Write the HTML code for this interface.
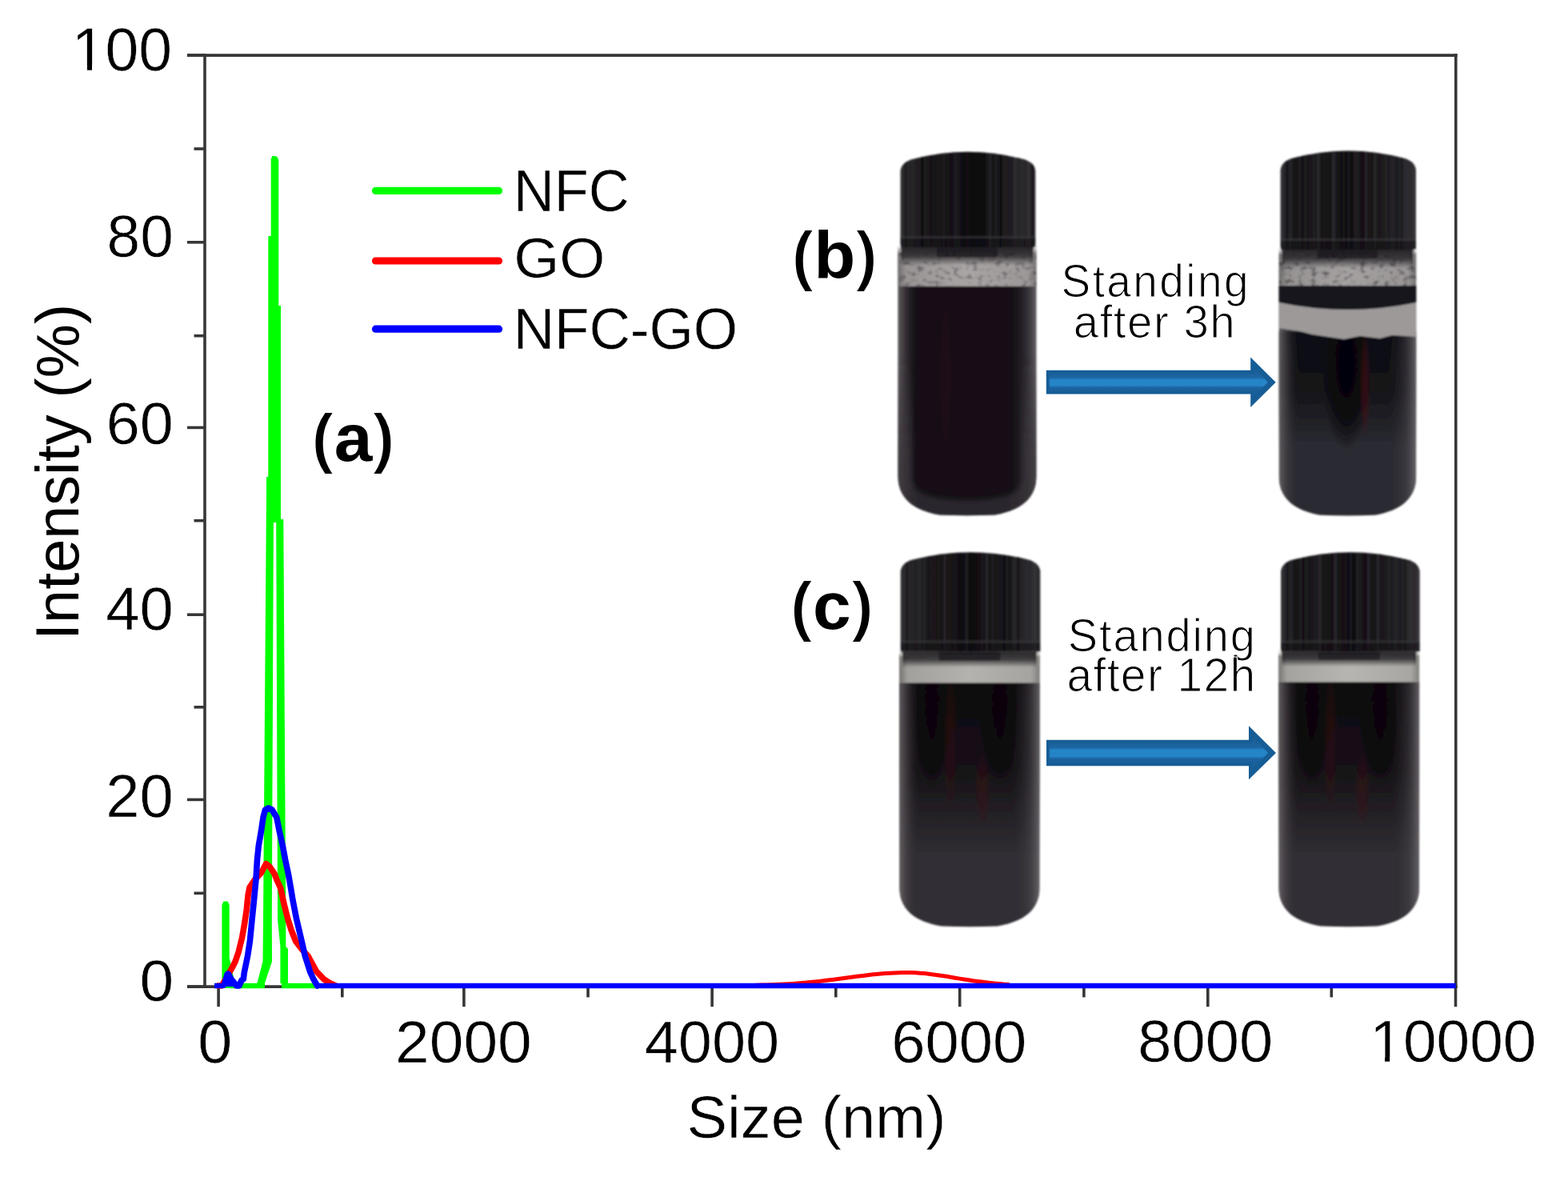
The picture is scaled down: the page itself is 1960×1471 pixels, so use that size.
<!DOCTYPE html>
<html><head><meta charset="utf-8"><title>Size distribution of NFC, GO and NFC-GO</title>
<style>html,body{margin:0;padding:0;background:#fff;overflow:hidden;}svg{display:block;}</style></head>
<body>
<svg width="1960" height="1471" viewBox="0 0 1960 1471" font-family="Liberation Sans, Arial, Helvetica, sans-serif">
<defs>
<filter id="soft" x="-5%" y="-5%" width="110%" height="110%"><feGaussianBlur stdDeviation="0.9"/></filter>
<filter id="soft2" x="-50%" y="-20%" width="200%" height="140%"><feGaussianBlur stdDeviation="3"/></filter>
<filter id="soft3" x="-30%" y="-30%" width="160%" height="160%"><feGaussianBlur stdDeviation="9"/></filter>
<filter id="speck" x="0" y="0" width="100%" height="100%">
  <feTurbulence type="fractalNoise" baseFrequency="0.13 0.18" numOctaves="3" seed="11" result="t"/>
  <feColorMatrix in="t" type="matrix" values="0 0 0 0 0.09  0 0 0 0 0.08  0 0 0 0 0.09  0 0 0 -4.5 2.1" result="m"/>
  <feComposite in="m" in2="SourceGraphic" operator="in"/>
</filter>
<linearGradient id="capg" x1="0" y1="0" x2="1" y2="0">
  <stop offset="0" stop-color="#303033"/><stop offset="0.08" stop-color="#242326"/>
  <stop offset="0.3" stop-color="#151316"/><stop offset="0.55" stop-color="#0f0d10"/>
  <stop offset="0.8" stop-color="#1e1d20"/><stop offset="0.93" stop-color="#2d2c2f"/><stop offset="1" stop-color="#38373a"/>
</linearGradient>
<linearGradient id="edgeg" x1="0" y1="0" x2="1" y2="0">
  <stop offset="0" stop-color="#6a6568" stop-opacity="0.9"/><stop offset="0.05" stop-color="#4a4549" stop-opacity="0.7"/>
  <stop offset="0.14" stop-color="#2a262b" stop-opacity="0"/><stop offset="0.8" stop-color="#2a262b" stop-opacity="0"/>
  <stop offset="0.93" stop-color="#4a464c" stop-opacity="0.55"/><stop offset="1" stop-color="#6e6a6e" stop-opacity="0.9"/>
</linearGradient>
<linearGradient id="bandedge" x1="0" y1="0" x2="1" y2="0">
  <stop offset="0" stop-color="#000" stop-opacity="0.35"/><stop offset="0.06" stop-color="#000" stop-opacity="0.1"/>
  <stop offset="0.5" stop-color="#000" stop-opacity="0"/><stop offset="0.94" stop-color="#000" stop-opacity="0.08"/><stop offset="1" stop-color="#000" stop-opacity="0.3"/>
</linearGradient>
<linearGradient id="vfg" x1="0" y1="0" x2="0" y2="1">
  <stop offset="0" stop-color="#fff"/><stop offset="0.55" stop-color="#fff"/><stop offset="1" stop-color="#000"/>
</linearGradient>
<mask id="vfade" maskContentUnits="objectBoundingBox"><rect width="1" height="1" fill="url(#vfg)"/></mask>
<linearGradient id="arrs" x1="0" y1="0" x2="0" y2="1">
  <stop offset="0" stop-color="#0f5a92"/><stop offset="0.1" stop-color="#1a5d96"/><stop offset="0.35" stop-color="#1c66a3"/>
  <stop offset="0.42" stop-color="#2584c6"/><stop offset="0.6" stop-color="#2585c7"/><stop offset="0.68" stop-color="#1b62a0"/>
  <stop offset="0.9" stop-color="#185e97"/><stop offset="1" stop-color="#0f5a92"/>
</linearGradient>
</defs>
<rect width="1960" height="1471" fill="#fff"/>
<clipPath id="clb1"><path d="M1122.4,307 L1295.5,307 L1295.5,594.6 C1295.5,629.6 1265.5,639.6 1243.57,643.6 Q1208.95,645.1 1174.3300000000002,643.6 C1152.4,639.6 1122.4,629.6 1122.4,594.6 Z"/></clipPath>
<g filter="url(#soft)">
<g clip-path="url(#clb1)">
<rect x="1122.4" y="307" width="173.0999999999999" height="339.6" fill="#120e14"/>
<radialGradient id="rg1"><stop offset="0" stop-color="#3a0d16" stop-opacity="0.35"/><stop offset="0.6" stop-color="#3a0d16" stop-opacity="0.245"/><stop offset="1" stop-color="#3a0d16" stop-opacity="0"/></radialGradient><ellipse cx="1182" cy="470" rx="10" ry="120" fill="url(#rg1)"/>
<rect x="1122.4" y="307" width="173.0999999999999" height="339.6" fill="url(#edgeg)"/>
<linearGradient id="rgrb1" gradientUnits="userSpaceOnUse" x1="0" y1="444.6" x2="0" y2="574.6"><stop offset="0" stop-color="#39343a" stop-opacity="0"/><stop offset="1" stop-color="#39343a" stop-opacity="0.7"/></linearGradient>
<path d="M1122.4,444.6 L1122.4,594.6 C1122.4,629.6 1152.4,641.6 1208.95,642.6 C1265.5,641.6 1295.5,629.6 1295.5,594.6 L1295.5,444.6" fill="none" stroke="url(#rgrb1)" stroke-width="34" filter="url(#soft2)"/>
<rect x="1122.4" y="315.4" width="173.0999999999999" height="42.400000000000034" fill="#aaa5a5"/>
<rect x="1122.4" y="315.4" width="173.0999999999999" height="42.400000000000034" fill="#000" filter="url(#speck)" opacity="0.6"/>
<rect x="1122.4" y="315.4" width="173.0999999999999" height="42.400000000000034" fill="url(#bandedge)"/>
<rect x="1122.4" y="307" width="173.0999999999999" height="8.399999999999977" fill="#aaa5a5"/>
<linearGradient id="vg15" x1="0" y1="0" x2="0" y2="1"><stop offset="0" stop-color="#18161a" stop-opacity="0.9"/><stop offset="0.5" stop-color="#18161a" stop-opacity="0.720"/><stop offset="1" stop-color="#18161a" stop-opacity="0.0"/></linearGradient><rect x="1126.4" y="309" width="165.0999999999999" height="22.399999999999977" fill="url(#vg15)"/>
<rect x="1170.9" y="309" width="76.2" height="12.399999999999977" rx="3" fill="#151317" opacity="0.55"/>
<path d="M1121.4,307 L1128.4,307 Q1122.4,309 1121.4,317 Z" fill="#fff"/>
<path d="M1296.5,307 L1289.5,307 Q1295.5,309 1296.5,317 Z" fill="#fff"/>
</g>
<path d="M1125.5,309 L1125.5,213.8 Q1126.5,202.8 1141.5,198.8 Q1209.95,180.8 1278.4,198.8 Q1293.4,202.8 1294.4,213.8 L1294.4,309 Z" fill="url(#capg)"/>
<clipPath id="ccb1"><path d="M1125.5,309 L1125.5,213.8 Q1126.5,202.8 1141.5,198.8 Q1209.95,180.8 1278.4,198.8 Q1293.4,202.8 1294.4,213.8 L1294.4,309 Z"/></clipPath><g clip-path="url(#ccb1)">
<rect x="1130.6" y="189.8" width="3.2" height="119.19999999999999" fill="#050406" opacity="0.36"/>
<rect x="1139.2" y="189.8" width="1.9" height="119.19999999999999" fill="#302f33" opacity="0.55"/>
<rect x="1145.8" y="189.8" width="2.0" height="119.19999999999999" fill="#2a1a1e" opacity="0.31"/>
<rect x="1150.8" y="189.8" width="3.8" height="119.19999999999999" fill="#050406" opacity="0.55"/>
<rect x="1158.9" y="189.8" width="1.7" height="119.19999999999999" fill="#2a1a1e" opacity="0.20"/>
<rect x="1162.7" y="189.8" width="2.8" height="119.19999999999999" fill="#050406" opacity="0.32"/>
<rect x="1172.4" y="189.8" width="3.2" height="119.19999999999999" fill="#2a1a1e" opacity="0.51"/>
<rect x="1178.4" y="189.8" width="2.7" height="119.19999999999999" fill="#302f33" opacity="0.39"/>
<rect x="1185.3" y="189.8" width="1.6" height="119.19999999999999" fill="#2a1a1e" opacity="0.39"/>
<rect x="1192.0" y="189.8" width="4.1" height="119.19999999999999" fill="#302f33" opacity="0.45"/>
<rect x="1196.5" y="189.8" width="3.1" height="119.19999999999999" fill="#3d3c40" opacity="0.21"/>
<rect x="1204.4" y="189.8" width="3.0" height="119.19999999999999" fill="#050406" opacity="0.50"/>
<rect x="1208.1" y="189.8" width="3.0" height="119.19999999999999" fill="#2a1a1e" opacity="0.31"/>
<rect x="1214.9" y="189.8" width="3.9" height="119.19999999999999" fill="#050406" opacity="0.40"/>
<rect x="1223.5" y="189.8" width="3.0" height="119.19999999999999" fill="#050406" opacity="0.22"/>
<rect x="1228.6" y="189.8" width="3.4" height="119.19999999999999" fill="#050406" opacity="0.21"/>
<rect x="1236.0" y="189.8" width="3.2" height="119.19999999999999" fill="#3d3c40" opacity="0.40"/>
<rect x="1243.5" y="189.8" width="2.5" height="119.19999999999999" fill="#302f33" opacity="0.38"/>
<rect x="1249.5" y="189.8" width="2.9" height="119.19999999999999" fill="#050406" opacity="0.49"/>
<rect x="1255.3" y="189.8" width="4.0" height="119.19999999999999" fill="#2a1a1e" opacity="0.47"/>
<rect x="1263.2" y="189.8" width="2.7" height="119.19999999999999" fill="#2a1a1e" opacity="0.46"/>
<rect x="1267.1" y="189.8" width="3.5" height="119.19999999999999" fill="#3d3c40" opacity="0.44"/>
<rect x="1276.2" y="189.8" width="3.3" height="119.19999999999999" fill="#302f33" opacity="0.36"/>
<rect x="1280.2" y="189.8" width="2.1" height="119.19999999999999" fill="#2a1a1e" opacity="0.51"/>
<rect x="1288.4" y="189.8" width="4.2" height="119.19999999999999" fill="#050406" opacity="0.54"/>
<rect x="1125.5" y="295" width="168.9000000000001" height="3" fill="#3a393d" opacity="0.6"/>
<rect x="1125.5" y="298" width="168.9000000000001" height="11" fill="#111013" opacity="0.5"/>
</g>
</g>
<clipPath id="clb2"><path d="M1598.6,310 L1770.3,310 L1770.3,594.7 C1770.3,629.7 1740.3,639.7 1718.7899999999997,643.7 Q1684.4499999999998,645.2 1650.11,643.7 C1628.6,639.7 1598.6,629.7 1598.6,594.7 Z"/></clipPath>
<g filter="url(#soft)">
<g clip-path="url(#clb2)">
<rect x="1598.6" y="310" width="171.70000000000005" height="336.70000000000005" fill="#2c2c33"/>
<linearGradient id="vg2" x1="0" y1="0" x2="0" y2="1"><stop offset="0" stop-color="#08080d" stop-opacity="0.85"/><stop offset="0.5" stop-color="#08080d" stop-opacity="0.680"/><stop offset="1" stop-color="#08080d" stop-opacity="0.0"/></linearGradient><rect x="1598" y="415" width="173" height="145" fill="url(#vg2)"/>
<radialGradient id="rg3"><stop offset="0" stop-color="#030206" stop-opacity="0.9"/><stop offset="0.6" stop-color="#030206" stop-opacity="0.630"/><stop offset="1" stop-color="#030206" stop-opacity="0"/></radialGradient><ellipse cx="1683" cy="470" rx="30" ry="95" fill="url(#rg3)"/>
<radialGradient id="rg4"><stop offset="0" stop-color="#4a0c12" stop-opacity="0.6"/><stop offset="0.6" stop-color="#4a0c12" stop-opacity="0.420"/><stop offset="1" stop-color="#4a0c12" stop-opacity="0"/></radialGradient><ellipse cx="1706" cy="480" rx="7" ry="70" fill="url(#rg4)"/>
<rect x="1598.6" y="310" width="171.70000000000005" height="336.70000000000005" fill="url(#edgeg)"/>
<rect x="1598.6" y="317" width="171.70000000000005" height="40.5" fill="#a6a2a2"/>
<rect x="1598.6" y="317" width="171.70000000000005" height="40.5" fill="#000" filter="url(#speck)" opacity="0.75"/>
<rect x="1598.6" y="317" width="171.70000000000005" height="40.5" fill="url(#bandedge)"/>
<rect x="1598.6" y="310" width="171.70000000000005" height="7" fill="#a6a2a2"/>
<linearGradient id="vg16" x1="0" y1="0" x2="0" y2="1"><stop offset="0" stop-color="#18161a" stop-opacity="0.9"/><stop offset="0.5" stop-color="#18161a" stop-opacity="0.720"/><stop offset="1" stop-color="#18161a" stop-opacity="0.0"/></linearGradient><rect x="1602.6" y="312" width="163.70000000000005" height="23" fill="url(#vg16)"/>
<rect x="1646.7" y="312" width="75.5" height="11" rx="3" fill="#151317" opacity="0.55"/>
<path d="M1597.6,310 L1604.6,310 Q1598.6,312 1597.6,320 Z" fill="#fff"/>
<path d="M1771.3,310 L1764.3,310 Q1770.3,312 1771.3,320 Z" fill="#fff"/>
<path d="M1598,357 L1771,357 L1771,378 Q1685,396 1598,378 Z" fill="#14161c"/>
<path d="M1598,378 Q1685,396 1771,378 L1771,421 L1740,419 L1725,423 L1700,420 L1680,424 L1660,421 L1640,418 L1625,414 L1610,412 L1598,410 Z" fill="#9d9999"/>
</g>
<path d="M1600.6,312 L1600.6,212.6 Q1601.6,201.6 1616.6,197.6 Q1685.3,179.6 1754,197.6 Q1769,201.6 1770,212.6 L1770,312 Z" fill="url(#capg)"/>
<clipPath id="ccb2"><path d="M1600.6,312 L1600.6,212.6 Q1601.6,201.6 1616.6,197.6 Q1685.3,179.6 1754,197.6 Q1769,201.6 1770,212.6 L1770,312 Z"/></clipPath><g clip-path="url(#ccb2)">
<rect x="1606.7" y="188.6" width="4.0" height="123.4" fill="#050406" opacity="0.45"/>
<rect x="1615.5" y="188.6" width="3.1" height="123.4" fill="#050406" opacity="0.34"/>
<rect x="1618.6" y="188.6" width="4.3" height="123.4" fill="#050406" opacity="0.42"/>
<rect x="1626.5" y="188.6" width="3.0" height="123.4" fill="#050406" opacity="0.50"/>
<rect x="1634.0" y="188.6" width="1.9" height="123.4" fill="#050406" opacity="0.33"/>
<rect x="1641.1" y="188.6" width="3.0" height="123.4" fill="#3d3c40" opacity="0.31"/>
<rect x="1646.0" y="188.6" width="4.1" height="123.4" fill="#3d3c40" opacity="0.49"/>
<rect x="1653.7" y="188.6" width="2.9" height="123.4" fill="#2a1a1e" opacity="0.39"/>
<rect x="1658.3" y="188.6" width="2.0" height="123.4" fill="#2a1a1e" opacity="0.43"/>
<rect x="1664.9" y="188.6" width="4.5" height="123.4" fill="#3d3c40" opacity="0.50"/>
<rect x="1671.0" y="188.6" width="4.3" height="123.4" fill="#302f33" opacity="0.20"/>
<rect x="1678.1" y="188.6" width="3.0" height="123.4" fill="#2a1a1e" opacity="0.41"/>
<rect x="1684.9" y="188.6" width="2.0" height="123.4" fill="#302f33" opacity="0.54"/>
<rect x="1691.8" y="188.6" width="4.5" height="123.4" fill="#302f33" opacity="0.54"/>
<rect x="1696.3" y="188.6" width="3.6" height="123.4" fill="#3d3c40" opacity="0.28"/>
<rect x="1706.1" y="188.6" width="3.1" height="123.4" fill="#3d3c40" opacity="0.47"/>
<rect x="1711.4" y="188.6" width="2.1" height="123.4" fill="#2a1a1e" opacity="0.45"/>
<rect x="1717.5" y="188.6" width="2.8" height="123.4" fill="#3d3c40" opacity="0.52"/>
<rect x="1723.2" y="188.6" width="1.7" height="123.4" fill="#2a1a1e" opacity="0.48"/>
<rect x="1731.2" y="188.6" width="3.3" height="123.4" fill="#302f33" opacity="0.38"/>
<rect x="1738.0" y="188.6" width="4.4" height="123.4" fill="#302f33" opacity="0.35"/>
<rect x="1745.0" y="188.6" width="2.5" height="123.4" fill="#050406" opacity="0.36"/>
<rect x="1750.4" y="188.6" width="3.2" height="123.4" fill="#050406" opacity="0.32"/>
<rect x="1756.2" y="188.6" width="3.7" height="123.4" fill="#302f33" opacity="0.33"/>
<rect x="1761.7" y="188.6" width="4.5" height="123.4" fill="#2a1a1e" opacity="0.29"/>
<rect x="1600.6" y="298" width="169.4000000000001" height="3" fill="#3a393d" opacity="0.6"/>
<rect x="1600.6" y="301" width="169.4000000000001" height="11" fill="#111013" opacity="0.5"/>
</g>
</g>
<clipPath id="clc1"><path d="M1124.2,812.6 L1299.6,812.6 L1299.6,1108.4 C1299.6,1143.4 1269.6,1153.4 1246.98,1157.4 Q1211.9,1158.9 1176.8200000000002,1157.4 C1154.2,1153.4 1124.2,1143.4 1124.2,1108.4 Z"/></clipPath>
<g filter="url(#soft)">
<g clip-path="url(#clc1)">
<rect x="1124.2" y="812.6" width="175.39999999999986" height="347.80000000000007" fill="#312e34"/>
<linearGradient id="vg5" x1="0" y1="0" x2="0" y2="1"><stop offset="0" stop-color="#080508" stop-opacity="0.85"/><stop offset="0.5" stop-color="#080508" stop-opacity="0.680"/><stop offset="1" stop-color="#080508" stop-opacity="0.0"/></linearGradient><rect x="1124" y="853" width="176" height="217" fill="url(#vg5)"/>
<radialGradient id="rg6"><stop offset="0" stop-color="#050305" stop-opacity="0.8"/><stop offset="0.6" stop-color="#050305" stop-opacity="0.560"/><stop offset="1" stop-color="#050305" stop-opacity="0"/></radialGradient><ellipse cx="1165" cy="900" rx="22" ry="90" fill="url(#rg6)"/>
<radialGradient id="rg7"><stop offset="0" stop-color="#050305" stop-opacity="0.8"/><stop offset="0.6" stop-color="#050305" stop-opacity="0.560"/><stop offset="1" stop-color="#050305" stop-opacity="0"/></radialGradient><ellipse cx="1250" cy="900" rx="25" ry="85" fill="url(#rg7)"/>
<radialGradient id="rg8"><stop offset="0" stop-color="#3a0a10" stop-opacity="0.45"/><stop offset="0.6" stop-color="#3a0a10" stop-opacity="0.315"/><stop offset="1" stop-color="#3a0a10" stop-opacity="0"/></radialGradient><ellipse cx="1188" cy="930" rx="9" ry="90" fill="url(#rg8)"/>
<radialGradient id="rg9"><stop offset="0" stop-color="#420b12" stop-opacity="0.4"/><stop offset="0.6" stop-color="#420b12" stop-opacity="0.280"/><stop offset="1" stop-color="#420b12" stop-opacity="0"/></radialGradient><ellipse cx="1228" cy="985" rx="10" ry="50" fill="url(#rg9)"/>
<rect x="1124.2" y="812.6" width="175.39999999999986" height="347.80000000000007" fill="url(#edgeg)"/>
<rect x="1124.2" y="820" width="175.39999999999986" height="33.5" fill="#b4b2ae"/>
<rect x="1124.2" y="820" width="175.39999999999986" height="33.5" fill="url(#bandedge)"/>
<rect x="1124.2" y="812.6" width="175.39999999999986" height="7.399999999999977" fill="#b4b2ae"/>
<linearGradient id="vg17" x1="0" y1="0" x2="0" y2="1"><stop offset="0" stop-color="#18161a" stop-opacity="0.9"/><stop offset="0.5" stop-color="#18161a" stop-opacity="0.720"/><stop offset="1" stop-color="#18161a" stop-opacity="0.0"/></linearGradient><rect x="1128.2" y="814.6" width="167.39999999999986" height="19.399999999999977" fill="url(#vg17)"/>
<rect x="1173.3" y="814.6" width="77.2" height="11.399999999999977" rx="3" fill="#151317" opacity="0.55"/>
<path d="M1123.2,812.6 L1130.2,812.6 Q1124.2,814.6 1123.2,822.6 Z" fill="#fff"/>
<path d="M1300.6,812.6 L1293.6,812.6 Q1299.6,814.6 1300.6,822.6 Z" fill="#fff"/>
</g>
<path d="M1125.7,814.6 L1125.7,714.2 Q1126.7,703.2 1141.7,699.2 Q1213.0500000000002,681.2 1284.4,699.2 Q1299.4,703.2 1300.4,714.2 L1300.4,814.6 Z" fill="url(#capg)"/>
<clipPath id="ccc1"><path d="M1125.7,814.6 L1125.7,714.2 Q1126.7,703.2 1141.7,699.2 Q1213.0500000000002,681.2 1284.4,699.2 Q1299.4,703.2 1300.4,714.2 L1300.4,814.6 Z"/></clipPath><g clip-path="url(#ccc1)">
<rect x="1132.4" y="690.2" width="2.0" height="124.39999999999998" fill="#050406" opacity="0.54"/>
<rect x="1140.3" y="690.2" width="1.5" height="124.39999999999998" fill="#302f33" opacity="0.44"/>
<rect x="1147.0" y="690.2" width="4.3" height="124.39999999999998" fill="#302f33" opacity="0.51"/>
<rect x="1154.3" y="690.2" width="2.0" height="124.39999999999998" fill="#3d3c40" opacity="0.36"/>
<rect x="1159.5" y="690.2" width="2.1" height="124.39999999999998" fill="#050406" opacity="0.28"/>
<rect x="1167.9" y="690.2" width="2.7" height="124.39999999999998" fill="#2a1a1e" opacity="0.20"/>
<rect x="1172.1" y="690.2" width="3.4" height="124.39999999999998" fill="#2a1a1e" opacity="0.33"/>
<rect x="1179.4" y="690.2" width="3.2" height="124.39999999999998" fill="#3d3c40" opacity="0.54"/>
<rect x="1184.4" y="690.2" width="4.4" height="124.39999999999998" fill="#2a1a1e" opacity="0.46"/>
<rect x="1191.7" y="690.2" width="3.9" height="124.39999999999998" fill="#302f33" opacity="0.22"/>
<rect x="1198.8" y="690.2" width="3.3" height="124.39999999999998" fill="#050406" opacity="0.22"/>
<rect x="1206.9" y="690.2" width="2.9" height="124.39999999999998" fill="#3d3c40" opacity="0.41"/>
<rect x="1212.2" y="690.2" width="3.1" height="124.39999999999998" fill="#050406" opacity="0.54"/>
<rect x="1221.5" y="690.2" width="3.4" height="124.39999999999998" fill="#2a1a1e" opacity="0.24"/>
<rect x="1226.6" y="690.2" width="2.1" height="124.39999999999998" fill="#302f33" opacity="0.54"/>
<rect x="1231.4" y="690.2" width="3.7" height="124.39999999999998" fill="#3d3c40" opacity="0.50"/>
<rect x="1239.5" y="690.2" width="2.6" height="124.39999999999998" fill="#3d3c40" opacity="0.38"/>
<rect x="1245.6" y="690.2" width="1.5" height="124.39999999999998" fill="#2a1a1e" opacity="0.55"/>
<rect x="1253.6" y="690.2" width="3.4" height="124.39999999999998" fill="#050406" opacity="0.44"/>
<rect x="1260.6" y="690.2" width="4.4" height="124.39999999999998" fill="#050406" opacity="0.22"/>
<rect x="1265.6" y="690.2" width="4.5" height="124.39999999999998" fill="#302f33" opacity="0.51"/>
<rect x="1271.9" y="690.2" width="2.2" height="124.39999999999998" fill="#050406" opacity="0.52"/>
<rect x="1281.2" y="690.2" width="3.5" height="124.39999999999998" fill="#302f33" opacity="0.47"/>
<rect x="1287.1" y="690.2" width="1.5" height="124.39999999999998" fill="#2a1a1e" opacity="0.24"/>
<rect x="1295.7" y="690.2" width="3.4" height="124.39999999999998" fill="#050406" opacity="0.20"/>
<rect x="1125.7" y="800.6" width="174.70000000000005" height="3" fill="#3a393d" opacity="0.6"/>
<rect x="1125.7" y="803.6" width="174.70000000000005" height="11" fill="#111013" opacity="0.5"/>
</g>
</g>
<clipPath id="clc2"><path d="M1598.3,812.5 L1774.2,812.5 L1774.2,1108.6 C1774.2,1143.6 1744.2,1153.6 1721.43,1157.6 Q1686.25,1159.1 1651.07,1157.6 C1628.3,1153.6 1598.3,1143.6 1598.3,1108.6 Z"/></clipPath>
<g filter="url(#soft)">
<g clip-path="url(#clc2)">
<rect x="1598.3" y="812.5" width="175.9000000000001" height="348.0999999999999" fill="#312e34"/>
<linearGradient id="vg10" x1="0" y1="0" x2="0" y2="1"><stop offset="0" stop-color="#080508" stop-opacity="0.85"/><stop offset="0.5" stop-color="#080508" stop-opacity="0.680"/><stop offset="1" stop-color="#080508" stop-opacity="0.0"/></linearGradient><rect x="1598" y="852" width="177" height="218" fill="url(#vg10)"/>
<radialGradient id="rg11"><stop offset="0" stop-color="#050305" stop-opacity="0.8"/><stop offset="0.6" stop-color="#050305" stop-opacity="0.560"/><stop offset="1" stop-color="#050305" stop-opacity="0"/></radialGradient><ellipse cx="1640" cy="900" rx="22" ry="90" fill="url(#rg11)"/>
<radialGradient id="rg12"><stop offset="0" stop-color="#050305" stop-opacity="0.8"/><stop offset="0.6" stop-color="#050305" stop-opacity="0.560"/><stop offset="1" stop-color="#050305" stop-opacity="0"/></radialGradient><ellipse cx="1725" cy="900" rx="25" ry="85" fill="url(#rg12)"/>
<radialGradient id="rg13"><stop offset="0" stop-color="#3a0a10" stop-opacity="0.45"/><stop offset="0.6" stop-color="#3a0a10" stop-opacity="0.315"/><stop offset="1" stop-color="#3a0a10" stop-opacity="0"/></radialGradient><ellipse cx="1663" cy="930" rx="9" ry="90" fill="url(#rg13)"/>
<radialGradient id="rg14"><stop offset="0" stop-color="#420b12" stop-opacity="0.4"/><stop offset="0.6" stop-color="#420b12" stop-opacity="0.280"/><stop offset="1" stop-color="#420b12" stop-opacity="0"/></radialGradient><ellipse cx="1703" cy="985" rx="10" ry="50" fill="url(#rg14)"/>
<rect x="1598.3" y="812.5" width="175.9000000000001" height="348.0999999999999" fill="url(#edgeg)"/>
<rect x="1598.3" y="819" width="175.9000000000001" height="33.5" fill="#b6b5b1"/>
<rect x="1598.3" y="819" width="175.9000000000001" height="33.5" fill="url(#bandedge)"/>
<rect x="1598.3" y="812.5" width="175.9000000000001" height="6.5" fill="#b6b5b1"/>
<linearGradient id="vg18" x1="0" y1="0" x2="0" y2="1"><stop offset="0" stop-color="#18161a" stop-opacity="0.9"/><stop offset="0.5" stop-color="#18161a" stop-opacity="0.720"/><stop offset="1" stop-color="#18161a" stop-opacity="0.0"/></linearGradient><rect x="1602.3" y="814.5" width="167.9000000000001" height="18.5" fill="url(#vg18)"/>
<rect x="1647.6" y="814.5" width="77.4" height="10.5" rx="3" fill="#151317" opacity="0.55"/>
<path d="M1597.3,812.5 L1604.3,812.5 Q1598.3,814.5 1597.3,822.5 Z" fill="#fff"/>
<path d="M1775.2,812.5 L1768.2,812.5 Q1774.2,814.5 1775.2,822.5 Z" fill="#fff"/>
</g>
<path d="M1601.1,814.5 L1601.1,714.3 Q1602.1,703.3 1617.1,699.3 Q1687.9,681.3 1758.7,699.3 Q1773.7,703.3 1774.7,714.3 L1774.7,814.5 Z" fill="url(#capg)"/>
<clipPath id="ccc2"><path d="M1601.1,814.5 L1601.1,714.3 Q1602.1,703.3 1617.1,699.3 Q1687.9,681.3 1758.7,699.3 Q1773.7,703.3 1774.7,714.3 L1774.7,814.5 Z"/></clipPath><g clip-path="url(#ccc2)">
<rect x="1607.3" y="690.3" width="4.0" height="124.20000000000005" fill="#050406" opacity="0.45"/>
<rect x="1616.3" y="690.3" width="3.1" height="124.20000000000005" fill="#050406" opacity="0.34"/>
<rect x="1619.5" y="690.3" width="4.3" height="124.20000000000005" fill="#050406" opacity="0.42"/>
<rect x="1627.7" y="690.3" width="3.0" height="124.20000000000005" fill="#050406" opacity="0.50"/>
<rect x="1635.3" y="690.3" width="1.9" height="124.20000000000005" fill="#050406" opacity="0.33"/>
<rect x="1642.5" y="690.3" width="3.0" height="124.20000000000005" fill="#3d3c40" opacity="0.31"/>
<rect x="1647.6" y="690.3" width="4.1" height="124.20000000000005" fill="#3d3c40" opacity="0.49"/>
<rect x="1655.5" y="690.3" width="2.9" height="124.20000000000005" fill="#2a1a1e" opacity="0.39"/>
<rect x="1660.3" y="690.3" width="2.0" height="124.20000000000005" fill="#2a1a1e" opacity="0.43"/>
<rect x="1667.1" y="690.3" width="4.5" height="124.20000000000005" fill="#3d3c40" opacity="0.50"/>
<rect x="1673.2" y="690.3" width="4.3" height="124.20000000000005" fill="#302f33" opacity="0.20"/>
<rect x="1680.6" y="690.3" width="3.0" height="124.20000000000005" fill="#2a1a1e" opacity="0.41"/>
<rect x="1687.5" y="690.3" width="2.0" height="124.20000000000005" fill="#302f33" opacity="0.54"/>
<rect x="1694.6" y="690.3" width="4.5" height="124.20000000000005" fill="#302f33" opacity="0.54"/>
<rect x="1699.3" y="690.3" width="3.6" height="124.20000000000005" fill="#3d3c40" opacity="0.28"/>
<rect x="1709.2" y="690.3" width="3.1" height="124.20000000000005" fill="#3d3c40" opacity="0.47"/>
<rect x="1714.7" y="690.3" width="2.1" height="124.20000000000005" fill="#2a1a1e" opacity="0.45"/>
<rect x="1720.9" y="690.3" width="2.8" height="124.20000000000005" fill="#3d3c40" opacity="0.52"/>
<rect x="1726.8" y="690.3" width="1.7" height="124.20000000000005" fill="#2a1a1e" opacity="0.48"/>
<rect x="1734.9" y="690.3" width="3.3" height="124.20000000000005" fill="#302f33" opacity="0.38"/>
<rect x="1741.9" y="690.3" width="4.4" height="124.20000000000005" fill="#302f33" opacity="0.35"/>
<rect x="1749.0" y="690.3" width="2.5" height="124.20000000000005" fill="#050406" opacity="0.36"/>
<rect x="1754.7" y="690.3" width="3.2" height="124.20000000000005" fill="#050406" opacity="0.32"/>
<rect x="1760.6" y="690.3" width="3.7" height="124.20000000000005" fill="#302f33" opacity="0.33"/>
<rect x="1766.3" y="690.3" width="4.5" height="124.20000000000005" fill="#2a1a1e" opacity="0.29"/>
<rect x="1601.1" y="800.5" width="173.60000000000014" height="3" fill="#3a393d" opacity="0.6"/>
<rect x="1601.1" y="803.5" width="173.60000000000014" height="11" fill="#111013" opacity="0.5"/>
</g>
</g>
<path d="M1307.8,462.8 L1563.2,462.8 L1563.2,446.5 L1594.7,477.70000000000005 L1563.2,509 L1563.2,492.6 L1307.8,492.6 Z" fill="#165d96"/>
<path d="M1311.8,466.8 L1567.2,466.8 L1567.2,458.5 L1584.7,477.70000000000005 L1567.2,497 L1567.2,488.6 L1311.8,488.6 Z" fill="url(#arrs)"/>
<path d="M1308,924.7 L1561,924.7 L1561,907.3 L1595,941.0 L1561,974.3 L1561,957.3 L1308,957.3 Z" fill="#165d96"/>
<path d="M1312,928.7 L1565,928.7 L1565,919.3 L1585,941.0 L1565,962.3 L1565,953.3 L1312,953.3 Z" fill="url(#arrs)"/>
<g stroke="#363636" stroke-width="3.6" fill="none" stroke-linecap="butt">
<line x1="234" y1="69.1" x2="1821.6" y2="69.1"/>
<line x1="256.0" y1="67.3" x2="256.0" y2="1234.8999999999999"/>
<line x1="1819.8" y1="67.3" x2="1819.8" y2="1234.8999999999999"/>
<line x1="234" y1="1233.1" x2="1821.6" y2="1233.1"/>
<line x1="234" y1="69.1" x2="256.0" y2="69.1"/>
<line x1="234" y1="302.8" x2="256.0" y2="302.8"/>
<line x1="234" y1="534.4" x2="256.0" y2="534.4"/>
<line x1="234" y1="768.2" x2="256.0" y2="768.2"/>
<line x1="234" y1="999.4" x2="256.0" y2="999.4"/>
<line x1="234" y1="1233.1" x2="256.0" y2="1233.1"/>
<line x1="242.5" y1="186.0" x2="256.0" y2="186.0"/>
<line x1="242.5" y1="419.7" x2="256.0" y2="419.7"/>
<line x1="242.5" y1="650.7" x2="256.0" y2="650.7"/>
<line x1="242.5" y1="883.8" x2="256.0" y2="883.8"/>
<line x1="242.5" y1="1116.3" x2="256.0" y2="1116.3"/>
<line x1="273.1" y1="1233.1" x2="273.1" y2="1258.2"/>
<line x1="579.9" y1="1233.1" x2="579.9" y2="1258.2"/>
<line x1="890.1" y1="1233.1" x2="890.1" y2="1258.2"/>
<line x1="1199.7" y1="1233.1" x2="1199.7" y2="1258.2"/>
<line x1="1509.8" y1="1233.1" x2="1509.8" y2="1258.2"/>
<line x1="1819.5" y1="1233.1" x2="1819.5" y2="1258.2"/>
<line x1="427.8" y1="1233.1" x2="427.8" y2="1246.4"/>
<line x1="735.0" y1="1233.1" x2="735.0" y2="1246.4"/>
<line x1="1044.8" y1="1233.1" x2="1044.8" y2="1246.4"/>
<line x1="1354.9" y1="1233.1" x2="1354.9" y2="1246.4"/>
<line x1="1664.3" y1="1233.1" x2="1664.3" y2="1246.4"/>
</g>
<polygon points="277.4,1231.0 277.4,1131.0 279.5,1126.4 284.6,1126.4 286.7,1131.0 286.7,1197.0 290.5,1214.0 293.5,1229.0 293.5,1235.0 277.4,1235.0" fill="#00ff00"/>
<polygon points="321.4,1229.0 328.5,1201.8 329.0,1150.0 333.0,620.0 333.0,596.0 335.3,596.0 335.3,295.0 338.7,295.0 338.7,199.0 340.5,194.8 346.0,195.5 348.3,200.0 348.3,382.0 351.0,382.0 351.0,649.0 354.3,649.0 357.3,1150.0 357.3,1183.0 360.0,1186.0 360.0,1229.0 350.4,1229.0 350.4,1183.0 347.1,1150.0 345.2,653.0 341.9,653.0 339.8,1150.0 340.0,1201.8 330.9,1229.0" fill="#00ff00"/>
<polyline points="288.0,1232.0 331.0,1232.0" fill="none" stroke="#00ff00" stroke-width="6.4" stroke-linecap="butt"/>
<polyline points="352.0,1232.0 394.0,1232.0" fill="none" stroke="#00ff00" stroke-width="6.4" stroke-linecap="butt"/>
<polyline points="268.0,1232.0 277.0,1232.0" fill="none" stroke="#00ff00" stroke-width="6.4" stroke-linecap="butt"/>
<polyline points="271.0,1232.0 277.0,1232.0 282.0,1224.0 288.9,1211.7 294.0,1202.0 298.2,1189.6 302.6,1171.9 305.7,1154.2 308.3,1136.5 310.1,1118.8 312.0,1109.0 318.0,1100.0 326.4,1091.0 332.5,1079.6 337.0,1083.0 343.1,1092.2 346.1,1100.0 350.7,1109.8 354.7,1128.5 359.5,1147.6 364.0,1162.0 369.5,1176.1 377.0,1186.0 385.2,1195.1 395.6,1214.2 404.7,1223.7 412.0,1228.5 420.0,1232.0" fill="none" stroke="#ff0000" stroke-width="7.6" stroke-linejoin="round" stroke-linecap="butt"/>
<polyline points="420.0,1232.0 936.0,1232.0 936.0,1231.5 941.5,1231.4 947.0,1231.3 952.5,1231.1 958.0,1231.0 963.5,1230.8 968.9,1230.6 974.4,1230.3 979.9,1230.0 985.4,1229.7 990.9,1229.4 996.4,1229.0 1001.9,1228.5 1007.4,1228.1 1012.9,1227.5 1018.4,1227.0 1023.9,1226.4 1029.4,1225.8 1034.8,1225.1 1040.3,1224.4 1045.8,1223.7 1051.3,1223.0 1056.8,1222.3 1062.3,1221.5 1067.8,1220.8 1073.3,1220.1 1078.8,1219.4 1084.3,1218.7 1089.8,1218.1 1095.3,1217.5 1100.7,1217.0 1106.2,1216.5 1111.7,1216.2 1117.2,1215.9 1122.7,1215.7 1128.2,1215.5 1133.7,1215.5 1139.2,1215.6 1144.7,1215.8 1150.2,1216.2 1155.7,1216.6 1161.2,1217.2 1166.6,1217.9 1172.1,1218.7 1177.6,1219.5 1183.1,1220.3 1188.6,1221.2 1194.1,1222.2 1199.6,1223.1 1205.1,1224.0 1210.6,1224.8 1216.1,1225.7 1221.6,1226.4 1227.1,1227.1 1232.5,1227.8 1238.0,1228.4 1243.5,1229.0 1249.0,1229.4 1254.5,1229.9 1260.0,1230.2 1262.0,1232.0 1819.0,1232.0" fill="none" stroke="#ff0000" stroke-width="5.0" stroke-linejoin="round" stroke-linecap="butt"/>
<polyline points="268.0,1232.0 279.5,1232.0 283.5,1217.5 286.0,1217.0 291.0,1226.0" fill="none" stroke="#0000ff" stroke-width="6.4" stroke-linejoin="round" stroke-linecap="butt"/>
<polyline points="291.0,1226.0 295.5,1232.0 299.0,1232.0 302.0,1225.0 304.3,1223.7 305.2,1216.1 309.5,1195.1 312.4,1176.1 315.2,1147.6 317.5,1125.0 319.9,1100.0 321.5,1074.5 323.3,1056.8 326.4,1039.2 329.0,1021.5 331.5,1012.0 335.6,1009.8 340.0,1012.0 345.8,1021.5 349.3,1039.2 353.3,1056.8 356.6,1074.5 360.4,1092.2 363.5,1109.8 366.0,1125.0 370.4,1147.6 377.1,1176.1 381.4,1195.1 387.5,1214.2 391.8,1223.7 396.6,1232.0" fill="none" stroke="#0000ff" stroke-width="7.6" stroke-linejoin="round" stroke-linecap="round"/>
<polyline points="396.6,1232.0 1819.6,1232.0" fill="none" stroke="#0000ff" stroke-width="6.4" stroke-linecap="butt"/>
<polygon points="277.5,1233 280.5,1220 283.5,1213.2 286.5,1213.8 289.5,1220 292.5,1229 294,1233" fill="#0000ff"/>
<g stroke-width="9.2" stroke-linecap="round">
<line x1="469.5" y1="238.4" x2="623.5" y2="238.4" stroke="#00ff00"/>
<line x1="469.5" y1="326.0" x2="623.5" y2="326.0" stroke="#ff0000"/>
<line x1="469.5" y1="411.2" x2="623.5" y2="411.2" stroke="#0000ff"/>
</g>
<g fill="#000">
<text transform="translate(89.82,87.99) scale(0.9858,1)" font-size="76.20" stroke="#fff" stroke-width="0.5" fill="#000">100</text>
<text transform="translate(133.59,321.11) scale(1.0110,1)" font-size="73.94" stroke="#fff" stroke-width="0.5" fill="#000">80</text>
<text transform="translate(132.77,555.30) scale(1.0135,1)" font-size="74.51" stroke="#fff" stroke-width="0.5" fill="#000">60</text>
<text transform="translate(132.35,786.50) scale(1.0111,1)" font-size="75.07" stroke="#fff" stroke-width="0.5" fill="#000">40</text>
<text transform="translate(132.35,1020.69) scale(1.0036,1)" font-size="75.63" stroke="#fff" stroke-width="0.5" fill="#000">20</text>
<text transform="translate(174.48,1250.72) scale(1.0524,1)" font-size="72.82" stroke="#fff" stroke-width="0.5" fill="#000">0</text>
<text transform="translate(247.25,1328.10) scale(1.0320,1)" font-size="75.07" stroke="#fff" stroke-width="0.5" fill="#000">0</text>
<text transform="translate(494.12,1327.81) scale(1.0310,1)" font-size="74.37" stroke="#fff" stroke-width="0.5" fill="#000">2000</text>
<text transform="translate(805.76,1327.71) scale(1.0282,1)" font-size="73.66" stroke="#fff" stroke-width="0.5" fill="#000">4000</text>
<text transform="translate(1114.25,1327.71) scale(1.0320,1)" font-size="73.66" stroke="#fff" stroke-width="0.5" fill="#000">6000</text>
<text transform="translate(1422.33,1327.31) scale(1.0309,1)" font-size="73.66" stroke="#fff" stroke-width="0.5" fill="#000">8000</text>
<text transform="translate(1712.34,1327.31) scale(1.0163,1)" font-size="73.66" stroke="#fff" stroke-width="0.5" fill="#000">10000</text>
<text transform="translate(858.54,1421.84) scale(1.0319,1)" font-size="73.37" stroke="#fff" stroke-width="0.5" fill="#000">Size (nm)</text>
<text transform="translate(98.12,799.90) rotate(-90) scale(0.9998,1)" font-size="75.61">Intensity (%)</text>
<text transform="translate(641.92,264.10) scale(0.9429,1)" font-size="74.65" stroke="#fff" stroke-width="0.5" fill="#000">NFC</text>
<text transform="translate(642.18,347.35) scale(1.0538,1)" font-size="69.72" stroke="#fff" stroke-width="0.5" fill="#000">GO</text>
<text transform="translate(641.66,436.03) scale(0.9904,1)" font-size="71.83" stroke="#fff" stroke-width="0.5" fill="#000">NFC-GO</text>
<text transform="translate(389.11,576.05) scale(1.0314,1)" font-size="83.10" font-weight="bold" fill="#000"><tspan stroke="#fff" stroke-width="2.2">(</tspan>a<tspan stroke="#fff" stroke-width="2.2">)</tspan></text>
<text transform="translate(989.27,347.59) scale(1.0089,1)" font-size="83.85" font-weight="bold" fill="#000"><tspan stroke="#fff" stroke-width="2.2">(</tspan>b<tspan stroke="#fff" stroke-width="2.2">)</tspan></text>
<text transform="translate(987.51,786.28) scale(1.0275,1)" font-size="83.42" font-weight="bold" fill="#000"><tspan stroke="#fff" stroke-width="2.2">(</tspan>c<tspan stroke="#fff" stroke-width="2.2">)</tspan></text>
<text transform="translate(1326.53,371.30) scale(0.9700,1)" font-size="56.69" letter-spacing="2.51" stroke="#fff" stroke-width="1.2" fill="#000">Standing</text>
<text transform="translate(1341.76,421.62) scale(0.9700,1)" font-size="58.23" letter-spacing="1.54" stroke="#fff" stroke-width="1.2" fill="#000">after 3h</text>
<text transform="translate(1334.78,813.90) scale(0.9700,1)" font-size="57.79" letter-spacing="1.89" stroke="#fff" stroke-width="1.2" fill="#000">Standing</text>
<text transform="translate(1333.43,864.31) scale(0.9700,1)" font-size="58.78" letter-spacing="1.39" stroke="#fff" stroke-width="1.2" fill="#000">after 12h</text>
</g>
<g fill="#fff"><rect x="93.5" y="81.3" width="15.4" height="7.1"/><rect x="115" y="81.3" width="14" height="7.1"/><rect x="1716.2" y="1320.9" width="14.8" height="7.5"/><rect x="1737.2" y="1320.9" width="14" height="7.5"/></g>
</svg>
</body></html>
